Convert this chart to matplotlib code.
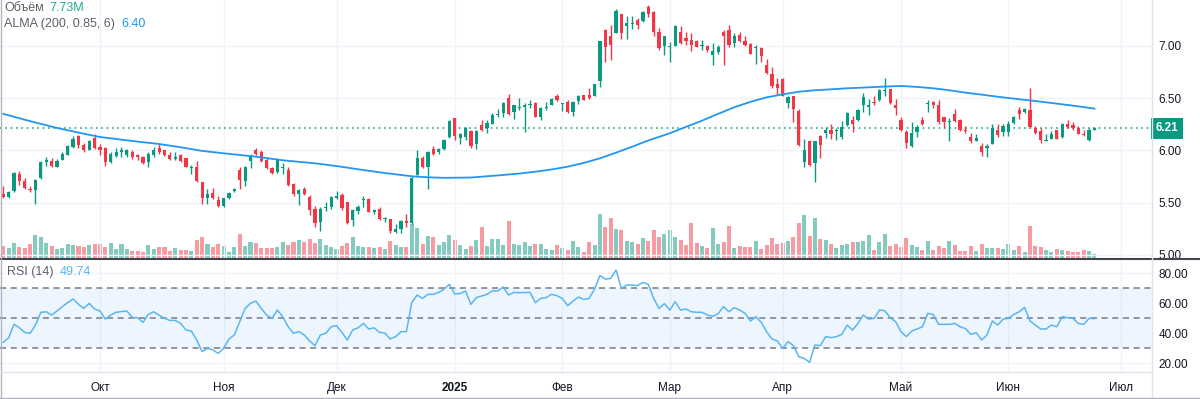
import numpy as np
import pandas as pd
import matplotlib.pyplot as plt
from matplotlib.lines import Line2D

plt.rcParams["font.family"] = ["Liberation Sans", "DejaVu Sans"]

# Trading sessions (the exchange calendar shown on the axis)
holidays = ["2025-01-01", "2025-01-02", "2025-01-03", "2025-05-01", "2025-05-09"]
sessions = pd.bdate_range("2024-09-05", "2025-07-31", freq="C", holidays=holidays)

# Daily OHLC
opens = [5.58, 5.55, 5.61, 5.77, 5.71, 5.63, 5.62, 5.74, 5.89, 5.90,
         5.84, 5.91, 5.96, 6.03, 6.14, 6.05, 6.00, 6.12, 6.03, 6.02,
         5.89, 5.95, 5.98, 5.96, 5.98, 5.96, 5.94, 5.89, 5.96, 6.02,
         6.00, 5.96, 5.92, 5.96, 5.93, 5.83, 5.84, 5.70, 5.54, 5.59,
         5.52, 5.47, 5.54, 5.61, 5.81, 5.71, 5.90, 6.00, 5.98, 5.91,
         5.83, 5.79, 5.83, 5.81, 5.68, 5.58, 5.63, 5.55, 5.44, 5.31,
         5.45, 5.46, 5.54, 5.57, 5.51, 5.33, 5.42, 5.52, 5.53, 5.41,
         5.44, 5.34, 5.34, 5.22, 5.25, 5.32, 5.30, 5.76, 5.93, 5.84,
         6.01, 5.98, 6.01, 6.13, 6.31, 6.12, 6.13, 6.19, 6.06, 6.24,
         6.21, 6.25, 6.34, 6.36, 6.50, 6.37, 6.41, 6.42, 6.43, 6.45,
         6.32, 6.41, 6.43, 6.52, 6.44, 6.46, 6.37, 6.47, 6.53, 6.53,
         6.52, 6.66, 7.15, 7.10, 7.12, 7.31, 7.19, 7.21, 7.25, 7.24,
         7.37, 7.33, 7.13, 7.00, 6.99, 7.00, 7.13, 7.08, 7.06, 7.05,
         7.00, 7.00, 6.91, 6.94, 7.13, 7.15, 7.03, 7.11, 7.05, 7.02,
         6.98, 6.98, 6.82, 6.73, 6.64, 6.68, 6.45, 6.52, 6.38, 5.89,
         6.09, 5.88, 6.14, 6.17, 6.20, 6.19, 6.13, 6.24, 6.29, 6.29,
         6.43, 6.42, 6.46, 6.48, 6.57, 6.59, 6.43, 6.29, 6.18, 6.04,
         6.18, 6.29, 6.44, 6.46, 6.43, 6.32, 6.27, 6.35, 6.29, 6.20,
         6.13, 6.09, 6.04, 6.02, 6.06, 6.20, 6.18, 6.18, 6.26, 6.39,
         6.37, 6.39, 6.21, 6.19, 6.09, 6.11, 6.20, 6.13, 6.25, 6.24,
         6.21, 6.16, 6.10, 6.20]
highs = [5.66, 5.61, 5.79, 5.80, 5.74, 5.66, 5.73, 5.90, 5.94, 5.93,
         5.92, 5.98, 6.05, 6.14, 6.15, 6.07, 6.10, 6.16, 6.06, 6.03,
         5.98, 6.02, 6.03, 6.01, 6.00, 5.97, 5.95, 5.98, 6.03, 6.06,
         6.00, 5.98, 5.98, 5.97, 5.93, 5.86, 5.90, 5.70, 5.63, 5.64,
         5.56, 5.54, 5.60, 5.64, 5.84, 5.85, 5.97, 6.02, 6.00, 5.94,
         5.84, 5.93, 5.88, 5.84, 5.69, 5.63, 5.65, 5.57, 5.47, 5.46,
         5.51, 5.56, 5.61, 5.59, 5.51, 5.44, 5.48, 5.56, 5.54, 5.44,
         5.46, 5.36, 5.34, 5.29, 5.33, 5.39, 5.75, 6.00, 5.95, 5.99,
         6.04, 6.02, 6.11, 6.29, 6.31, 6.17, 6.22, 6.20, 6.20, 6.29,
         6.29, 6.36, 6.40, 6.46, 6.54, 6.43, 6.50, 6.45, 6.48, 6.46,
         6.42, 6.46, 6.50, 6.54, 6.45, 6.48, 6.47, 6.53, 6.53, 6.60,
         6.64, 7.05, 7.16, 7.20, 7.35, 7.31, 7.29, 7.29, 7.27, 7.34,
         7.39, 7.34, 7.17, 7.10, 7.04, 7.20, 7.19, 7.13, 7.12, 7.06,
         7.06, 7.01, 7.03, 7.01, 7.15, 7.20, 7.12, 7.13, 7.10, 7.03,
         7.01, 6.99, 6.88, 6.80, 6.69, 6.69, 6.52, 6.52, 6.40, 6.11,
         6.10, 6.09, 6.15, 6.22, 6.25, 6.21, 6.28, 6.37, 6.33, 6.40,
         6.55, 6.49, 6.52, 6.59, 6.69, 6.59, 6.49, 6.32, 6.20, 6.27,
         6.24, 6.32, 6.48, 6.47, 6.48, 6.32, 6.31, 6.40, 6.30, 6.23,
         6.17, 6.16, 6.07, 6.06, 6.25, 6.25, 6.25, 6.28, 6.33, 6.42,
         6.41, 6.60, 6.23, 6.21, 6.16, 6.19, 6.20, 6.26, 6.29, 6.27,
         6.23, 6.20, 6.21, 6.22]
lows = [5.54, 5.54, 5.60, 5.67, 5.63, 5.60, 5.49, 5.73, 5.85, 5.84,
        5.84, 5.91, 5.96, 6.02, 6.02, 5.98, 6.00, 6.01, 5.96, 5.85,
        5.88, 5.94, 5.94, 5.94, 5.92, 5.91, 5.87, 5.84, 5.94, 5.97,
        5.95, 5.91, 5.91, 5.89, 5.84, 5.77, 5.70, 5.49, 5.49, 5.53,
        5.46, 5.46, 5.53, 5.60, 5.63, 5.66, 5.83, 5.96, 5.89, 5.82,
        5.77, 5.78, 5.77, 5.66, 5.56, 5.48, 5.57, 5.38, 5.27, 5.23,
        5.42, 5.44, 5.53, 5.43, 5.29, 5.28, 5.39, 5.46, 5.41, 5.39,
        5.33, 5.31, 5.21, 5.21, 5.21, 5.27, 5.29, 5.76, 5.83, 5.63,
        5.96, 5.97, 6.00, 6.12, 6.10, 6.06, 6.10, 6.02, 6.01, 6.19,
        6.17, 6.25, 6.32, 6.32, 6.34, 6.30, 6.39, 6.18, 6.41, 6.32,
        6.29, 6.39, 6.43, 6.47, 6.38, 6.36, 6.33, 6.44, 6.48, 6.49,
        6.52, 6.61, 6.85, 6.87, 7.12, 7.07, 7.07, 7.16, 7.16, 7.23,
        7.28, 7.10, 6.96, 6.91, 6.85, 7.00, 7.02, 7.01, 6.95, 6.99,
        6.96, 6.94, 6.82, 6.92, 6.82, 6.99, 6.99, 7.04, 7.00, 6.92,
        6.83, 6.85, 6.73, 6.60, 6.53, 6.52, 6.41, 6.27, 6.04, 5.84,
        5.85, 5.70, 5.93, 6.12, 6.11, 6.10, 6.11, 6.23, 6.18, 6.28,
        6.37, 6.34, 6.43, 6.47, 6.52, 6.44, 6.34, 6.19, 6.02, 6.03,
        6.13, 6.24, 6.37, 6.41, 6.25, 6.21, 6.09, 6.27, 6.19, 6.17,
        6.07, 6.09, 5.95, 5.94, 6.06, 6.13, 6.14, 6.14, 6.25, 6.30,
        6.36, 6.21, 6.16, 6.07, 6.09, 6.11, 6.11, 6.12, 6.21, 6.20,
        6.16, 6.14, 6.09, 6.20]
closes = [5.55, 5.60, 5.78, 5.71, 5.64, 5.62, 5.72, 5.89, 5.91, 5.85,
          5.90, 5.97, 6.04, 6.11, 6.05, 6.00, 6.09, 6.02, 6.00, 5.89,
          5.97, 5.98, 6.00, 6.00, 5.94, 5.94, 5.88, 5.97, 6.00, 5.98,
          5.96, 5.92, 5.94, 5.90, 5.84, 5.84, 5.71, 5.54, 5.58, 5.54,
          5.47, 5.54, 5.59, 5.63, 5.72, 5.84, 5.95, 5.97, 5.90, 5.83,
          5.78, 5.92, 5.84, 5.67, 5.58, 5.62, 5.58, 5.43, 5.30, 5.44,
          5.46, 5.55, 5.56, 5.45, 5.30, 5.43, 5.46, 5.53, 5.41, 5.43,
          5.34, 5.34, 5.23, 5.25, 5.32, 5.30, 5.74, 5.93, 5.84, 5.98,
          5.97, 6.01, 6.10, 6.28, 6.14, 6.16, 6.21, 6.04, 6.19, 6.20,
          6.26, 6.34, 6.35, 6.45, 6.35, 6.43, 6.42, 6.43, 6.44, 6.32,
          6.41, 6.42, 6.49, 6.48, 6.45, 6.37, 6.46, 6.52, 6.48, 6.50,
          6.64, 7.05, 6.99, 7.01, 7.34, 7.12, 7.22, 7.22, 7.20, 7.33,
          7.31, 7.13, 6.98, 7.10, 6.99, 7.19, 7.03, 7.05, 7.01, 6.99,
          7.01, 6.96, 6.95, 6.99, 7.10, 7.01, 7.10, 7.05, 7.01, 6.92,
          6.98, 6.90, 6.74, 6.62, 6.60, 6.52, 6.51, 6.40, 6.05, 6.00,
          5.86, 6.09, 6.05, 6.20, 6.16, 6.20, 6.22, 6.36, 6.25, 6.39,
          6.51, 6.43, 6.45, 6.58, 6.58, 6.45, 6.41, 6.20, 6.07, 6.17,
          6.22, 6.25, 6.45, 6.43, 6.27, 6.27, 6.28, 6.28, 6.20, 6.19,
          6.09, 6.12, 5.98, 6.04, 6.21, 6.15, 6.23, 6.25, 6.32, 6.35,
          6.40, 6.22, 6.17, 6.10, 6.10, 6.16, 6.11, 6.25, 6.22, 6.21,
          6.16, 6.15, 6.20, 6.21]

# Volume in millions
volume_m = [25, 21, 30, 23, 21, 28, 47, 42, 31, 25,
            19, 21, 28, 26, 25, 23, 26, 28, 28, 22,
            30, 19, 28, 19, 15, 15, 13, 26, 19, 23,
            23, 15, 21, 17, 17, 15, 36, 42, 29, 23,
            28, 25, 13, 23, 48, 25, 32, 30, 21, 21,
            21, 23, 32, 27, 32, 36, 32, 39, 31, 38,
            27, 23, 19, 25, 31, 42, 24, 23, 23, 21,
            23, 19, 34, 27, 23, 23, 68, 61, 29, 44,
            42, 27, 32, 47, 36, 27, 19, 25, 36, 63,
            24, 38, 38, 26, 75, 28, 27, 32, 24, 28,
            28, 19, 17, 26, 21, 17, 34, 23, 13, 32,
            26, 88, 63, 80, 59, 56, 34, 32, 28, 40,
            34, 56, 42, 48, 57, 42, 36, 26, 71, 30,
            24, 21, 61, 28, 32, 65, 21, 25, 23, 23,
            34, 19, 27, 40, 28, 31, 34, 42, 71, 86,
            44, 80, 38, 36, 29, 21, 27, 29, 33, 33,
            34, 46, 17, 33, 48, 25, 29, 23, 40, 27,
            23, 17, 34, 17, 25, 21, 34, 27, 15, 15,
            25, 15, 29, 21, 21, 21, 19, 29, 17, 25,
            13, 65, 25, 23, 17, 13, 19, 17, 15, 13,
            13, 17, 15, 7.73]

# RSI(14) values
rsi = [34, 37, 46, 43.7, 40.6, 40, 45.5, 54, 54.4, 52.2,
       54.9, 57.8, 60.5, 62.9, 59.3, 56.6, 60, 56.2, 54.9, 49.5,
       52.2, 54, 54.5, 54.9, 50.6, 50.4, 47.3, 52.6, 54.4, 52,
       50, 48.6, 48.6, 46.6, 42.2, 41.5, 35.5, 27.8, 30, 28.9,
       26.6, 30, 36.2, 38.9, 47.8, 56.6, 60, 61.5, 56.6, 52.2,
       50, 55.5, 51, 44.4, 40, 41.1, 38.9, 34.9, 31.8, 38.9,
       40, 44.4, 45.1, 40.6, 35.5, 42.2, 43.7, 46.6, 42.9, 43.7,
       40.6, 40.2, 36.2, 37.8, 41.1, 41.1, 60.6, 65.5, 63.3, 66,
       66, 67.3, 69.5, 72.6, 66.2, 66.6, 68.2, 59.3, 63.8, 64.9,
       66, 68.4, 68.2, 70.9, 65.5, 67.3, 67.1, 67.2, 67.3, 60.4,
       63.3, 63.8, 66, 65.1, 63.3, 58.4, 61.5, 64.2, 62.6, 63.3,
       69.5, 78.5, 76.2, 76.6, 82.2, 70, 72.2, 72.2, 71.8, 74,
       72.6, 63.3, 56.6, 59.8, 55.5, 61.1, 55.5, 56.2, 54.4, 54,
       54, 52.2, 51.3, 53.1, 57.8, 54.4, 57.1, 55.5, 53.3, 48.2,
       51.1, 47.3, 41.1, 36.2, 34.9, 30, 34.4, 31.8, 24.4, 23.3,
       20.6, 32.2, 31.8, 37.8, 37.1, 37.8, 39.3, 45.5, 42.2, 46.6,
       52.2, 49.5, 50, 55.5, 55.1, 50.4, 47.8, 41.1, 37.8, 41.5,
       42.9, 44.4, 53.3, 52.6, 46, 46, 46, 46.6, 44.4, 43.1,
       39.3, 40.4, 35.5, 38.9, 48.2, 45.5, 49.5, 50, 52.6, 54.4,
       57.3, 48.2, 45.5, 42.9, 42.9, 45.5, 44.4, 51.1, 50.4, 50,
       46.6, 46, 50, 49.74]

# ALMA(200, 0.85, 6) read at selected sessions
alma_at = [0, 5, 10, 14, 18, 24, 29, 33, 37, 41, 47, 52, 58, 62, 66, 71, 76,
           79, 82, 87, 92, 96, 99, 102, 105, 108, 111, 114, 117, 120, 124,
           127, 130, 133, 136, 139, 142, 145, 148, 151, 154, 157, 161, 164,
           167, 170, 173, 176, 179, 182, 185, 189, 192, 195, 198, 201, 203]
alma = [6.35, 6.28, 6.215, 6.17, 6.128, 6.09, 6.061, 6.03, 5.995, 5.972,
        5.94, 5.905, 5.876, 5.85, 5.819, 5.783, 5.752, 5.742, 5.737, 5.74,
        5.76, 5.778, 5.796, 5.817, 5.844, 5.88, 5.924, 5.978, 6.035, 6.095,
        6.164, 6.225, 6.285, 6.35, 6.413, 6.465, 6.508, 6.537, 6.562, 6.576,
        6.585, 6.595, 6.604, 6.611, 6.617, 6.608, 6.595, 6.576, 6.553, 6.534,
        6.514, 6.49, 6.473, 6.454, 6.435, 6.415, 6.40]

month_names = {10: "Окт", 11: "Ноя", 12: "Дек", 1: "2025", 2: "Фев", 3: "Мар",
               4: "Апр", 5: "Май", 6: "Июн", 7: "Июл"}

up_col = "#089981"
down_col = "#f23645"
grid_col = "#f0f3fa"
text_col = "#131722"

o = np.array(opens)
h = np.array(highs)
l = np.array(lows)
c = np.array(closes)
n = len(c)
x = np.arange(n)
is_up = c >= o
cols = np.where(is_up, up_col, down_col)

# month tick positions from the session calendar
month_pos, month_lab = [], []
for i in range(1, len(sessions)):
    if sessions[i].month != sessions[i - 1].month and sessions[i].month in month_names:
        month_pos.append(i)
        month_lab.append(month_names[sessions[i].month])

W, H = 1200, 399
fig = plt.figure(figsize=(W / 100, H / 100), dpi=100)
fig.patch.set_facecolor("white")
plot_w = 1152 / W
ax = fig.add_axes([0, 1 - 258 / H, plot_w, 258 / H])
axr = fig.add_axes([0, 27 / H, plot_w, 112 / H], sharex=ax)
axv = ax.twinx()

xlim = (-0.6, 213.7)

# volume
axv.bar(x, volume_m, width=0.75, color=cols, alpha=0.5, linewidth=0)
axv.set_ylim(0, 516)
axv.axis("off")

# gridlines
for p in [5.0, 5.5, 6.0, 6.5, 7.0]:
    ax.axhline(p, color=grid_col, lw=1, zorder=0)
for mp in month_pos:
    ax.axvline(mp, color=grid_col, lw=1, zorder=0)
    axr.axvline(mp, color=grid_col, lw=1, zorder=0)

# candles
ax.vlines(x, l, h, colors=cols, lw=1, zorder=3)
body_lo = np.minimum(o, c)
body_h = np.maximum(np.abs(c - o), 0.008)
ax.bar(x, body_h, bottom=body_lo, width=0.6, color=cols, linewidth=0, zorder=4)

# ALMA
ax.plot(alma_at, alma, color="#2196f3", lw=1.3, zorder=5)

# last price line and tag
ax.axhline(c[-1], color="#22ab94", ls=(0, (1, 2.2)), lw=1.2, zorder=2)
ax.annotate(f"{c[-1]:.2f}", xy=(1.0, c[-1]), xycoords=("axes fraction", "data"),
            xytext=(2.5, 0), textcoords="offset points", ha="left", va="center",
            fontsize=8.5, fontweight="bold", color="white", annotation_clip=False,
            bbox=dict(boxstyle="square,pad=0.4", fc="#089981", ec="none"))

ax.set_xlim(*xlim)
ax.set_ylim(4.969, 7.4406)
ax.yaxis.tick_right()
ax.set_yticks([5.0, 5.5, 6.0, 6.5, 7.0])
ax.set_yticklabels([f"{v:.2f}" for v in [5.0, 5.5, 6.0, 6.5, 7.0]])
ax.tick_params(axis="y", length=0, pad=4.5, labelsize=8.5, labelcolor=text_col)
ax.tick_params(axis="x", length=0, labelbottom=False)
for s in ax.spines.values():
    s.set_visible(False)
ax.set_zorder(axv.get_zorder() + 1)
ax.patch.set_visible(False)

# RSI pane
axr.axhspan(30, 70, color="#2196f3", alpha=0.08, lw=0, zorder=0)
for g in [20, 40, 60, 80]:
    axr.axhline(g, color=grid_col, lw=1, zorder=0)
for lvl in [70, 50, 30]:
    axr.axhline(lvl, color="#787b86", lw=1.1, ls=(0, (4, 3)), zorder=2)
axr.plot(x, rsi, color="#5ab6f0", lw=1.1, zorder=3)
axr.set_ylim(14.2, 88.9)
axr.yaxis.tick_right()
axr.set_yticks([20, 40, 60, 80])
axr.set_yticklabels([f"{v:.2f}" for v in [20, 40, 60, 80]])
axr.tick_params(axis="y", length=0, pad=4.5, labelsize=8.5, labelcolor=text_col)
axr.set_xticks(month_pos)
axr.set_xticklabels(month_lab)
axr.tick_params(axis="x", length=0, pad=7, labelsize=8.5, labelcolor=text_col)
for t in axr.get_xticklabels():
    if t.get_text() == "2025":
        t.set_fontweight("bold")
for s in axr.spines.values():
    s.set_visible(False)
axr.set_xlim(*xlim)

# frame lines
fig.add_artist(Line2D([0, 1], [1 - 259 / H, 1 - 259 / H], color="#434651", lw=1.5))
fig.add_artist(Line2D([plot_w, plot_w], [0, 1], color="#e0e3eb", lw=1))
fig.add_artist(Line2D([0.5 / W, 0.5 / W], [0, 1], color="#b2b5be", lw=1))
fig.add_artist(Line2D([0, 1], [1 / H, 1 / H], color="#b2b5be", lw=1))
fig.add_artist(Line2D([0, plot_w], [27 / H, 27 / H], color="#e0e3eb", lw=1))

# legends
def legend(xp, yp, parts):
    xcur = xp
    for txt, col in parts:
        t = fig.text(xcur / W, 1 - yp / H, txt, color=col, fontsize=9, va="center", ha="left")
        fig.canvas.draw()
        bb = t.get_window_extent()
        xcur += bb.width + 6

legend(4, 8, [("Объём", "#5d606b"), ("7.73M", "#22ab94")])
legend(4, 24, [("ALMA (200, 0.85, 6)", "#5d606b"), ("6.40", "#2196f3")])
legend(7, 272, [("RSI (14)", "#5d606b"), ("49.74", "#5ab6f0")])

fig.savefig("out.png", dpi=100)
